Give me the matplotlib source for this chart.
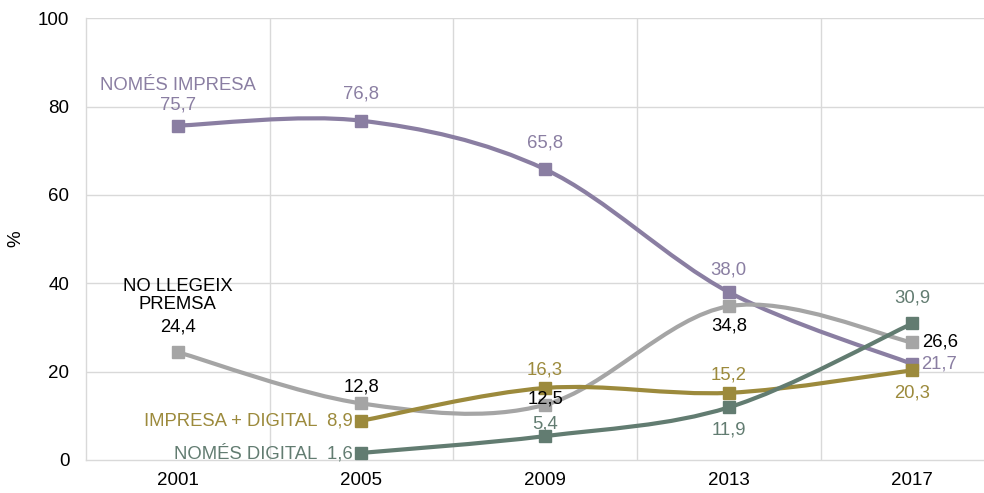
import numpy as np
import matplotlib.pyplot as plt
from matplotlib.path import Path
from matplotlib.patches import PathPatch

plt.rcParams['font.family'] = ['Liberation Sans', 'DejaVu Sans']

years = ['2001', '2005', '2009', '2013', '2017']
nomes_impresa = [75.7, 76.8, 65.8, 38.0, 21.7]
no_llegeix = [24.4, 12.8, 12.5, 34.8, 26.6]
impresa_digital = [None, 8.9, 16.3, 15.2, 20.3]
nomes_digital = [None, 1.6, 5.4, 11.9, 30.9]

c_imp = '#8a7ea2'
c_no = '#a5a5a5'
c_impdig = '#9c8a3c'
c_dig = '#627c71'


def smooth_path(xs, ys):
    # Excel-like smoothed line: cubic Bezier segments, Catmull-Rom control points
    pts = np.column_stack([xs, ys]).astype(float)
    verts = [pts[0]]
    codes = [Path.MOVETO]
    n = len(pts)
    for i in range(n - 1):
        p0 = pts[i - 1] if i > 0 else pts[i]
        p1, p2 = pts[i], pts[i + 1]
        p3 = pts[i + 2] if i + 2 < n else pts[i + 1]
        c1 = p1 + (p2 - p0) / 6
        c2 = p2 - (p3 - p1) / 6
        verts += [c1, c2, p2]
        codes += [Path.CURVE4] * 3
    return Path(verts, codes)


fig = plt.figure(figsize=(9.84, 4.93), dpi=100)
ax = fig.add_axes([0.0874, 0.067, 0.9126, 0.896])

series = [
    (nomes_impresa, c_imp),
    (no_llegeix, c_no),
    (impresa_digital, c_impdig),
    (nomes_digital, c_dig),
]
for vals, col in series:
    xs = [i for i, v in enumerate(vals) if v is not None]
    ys = [v for v in vals if v is not None]
    ax.add_patch(PathPatch(smooth_path(xs, ys), fill=False, edgecolor=col,
                           lw=3, capstyle='round', zorder=3))
    ax.plot(xs, ys, ls='none', marker='s', ms=8.5, color=col, zorder=4)

fs = 13.3


def lab(x, y, s, col, dx=0, dy=0, ha='center', va='center'):
    ax.annotate(s, (x, y), xytext=(dx, dy), textcoords='offset points',
                ha=ha, va=va, color=col, fontsize=fs, zorder=5,
                linespacing=1.05)


fmt = lambda v: f'{v:.1f}'.replace('.', ',')

# NOMÉS IMPRESA
lab(0, nomes_impresa[0], 'NOMÉS IMPRESA', c_imp, dy=29)
lab(0, nomes_impresa[0], fmt(nomes_impresa[0]), c_imp, dy=15)
lab(1, nomes_impresa[1], fmt(nomes_impresa[1]), c_imp, dy=19)
lab(2, nomes_impresa[2], fmt(nomes_impresa[2]), c_imp, dy=19)
lab(3, nomes_impresa[3], fmt(nomes_impresa[3]), c_imp, dy=16)
lab(4, nomes_impresa[4], fmt(nomes_impresa[4]), c_imp, dx=6, ha='left')

# NO LLEGEIX PREMSA
lab(0, no_llegeix[0], 'NO LLEGEIX\nPREMSA', 'black', dy=41)
lab(0, no_llegeix[0], fmt(no_llegeix[0]), 'black', dy=18)
lab(1, no_llegeix[1], fmt(no_llegeix[1]), 'black', dy=12)
lab(2, no_llegeix[2], fmt(no_llegeix[2]), 'black', dy=4.5)
lab(3, no_llegeix[3], fmt(no_llegeix[3]), 'black', dy=-14)
lab(4, no_llegeix[4], fmt(no_llegeix[4]), 'black', dx=7, ha='left')

# IMPRESA + DIGITAL
lab(1, impresa_digital[1], 'IMPRESA + DIGITAL  ' + fmt(impresa_digital[1]),
    c_impdig, dx=-6, ha='right')
lab(2, impresa_digital[2], fmt(impresa_digital[2]), c_impdig, dy=13)
lab(3, impresa_digital[3], fmt(impresa_digital[3]), c_impdig, dy=13)
lab(4, impresa_digital[4], fmt(impresa_digital[4]), c_impdig, dy=-16.5)

# NOMÉS DIGITAL
lab(1, nomes_digital[1], 'NOMÉS DIGITAL  ' + fmt(nomes_digital[1]),
    c_dig, dx=-6, ha='right')
lab(2, nomes_digital[2], fmt(nomes_digital[2]), c_dig, dy=9)
lab(3, nomes_digital[3], fmt(nomes_digital[3]), c_dig, dy=-16)
lab(4, nomes_digital[4], fmt(nomes_digital[4]), c_dig, dy=18)

ax.set_xlim(-0.5, 4.39)
ax.set_ylim(0, 100)
ax.set_xticks(range(len(years)))
ax.set_xticklabels(years)
ax.set_yticks(range(0, 101, 20))
ax.tick_params(axis='y', length=0, labelsize=13.5, pad=12)
ax.tick_params(axis='x', length=0, labelsize=13.5, pad=9)
ax.set_ylabel('%', fontsize=13.5, labelpad=10)

grid_col = '#d9d9d9'
for y in range(20, 101, 20):
    ax.axhline(y, color=grid_col, lw=1, zorder=1)
for xb in np.arange(0.5, 4.0, 1.0):
    ax.axvline(xb, color=grid_col, lw=1, zorder=1)
for s in ['top', 'right']:
    ax.spines[s].set_visible(False)
for s in ['left', 'bottom']:
    ax.spines[s].set_color(grid_col)
    ax.spines[s].set_linewidth(1)

fig.savefig('out.png', dpi=100)
